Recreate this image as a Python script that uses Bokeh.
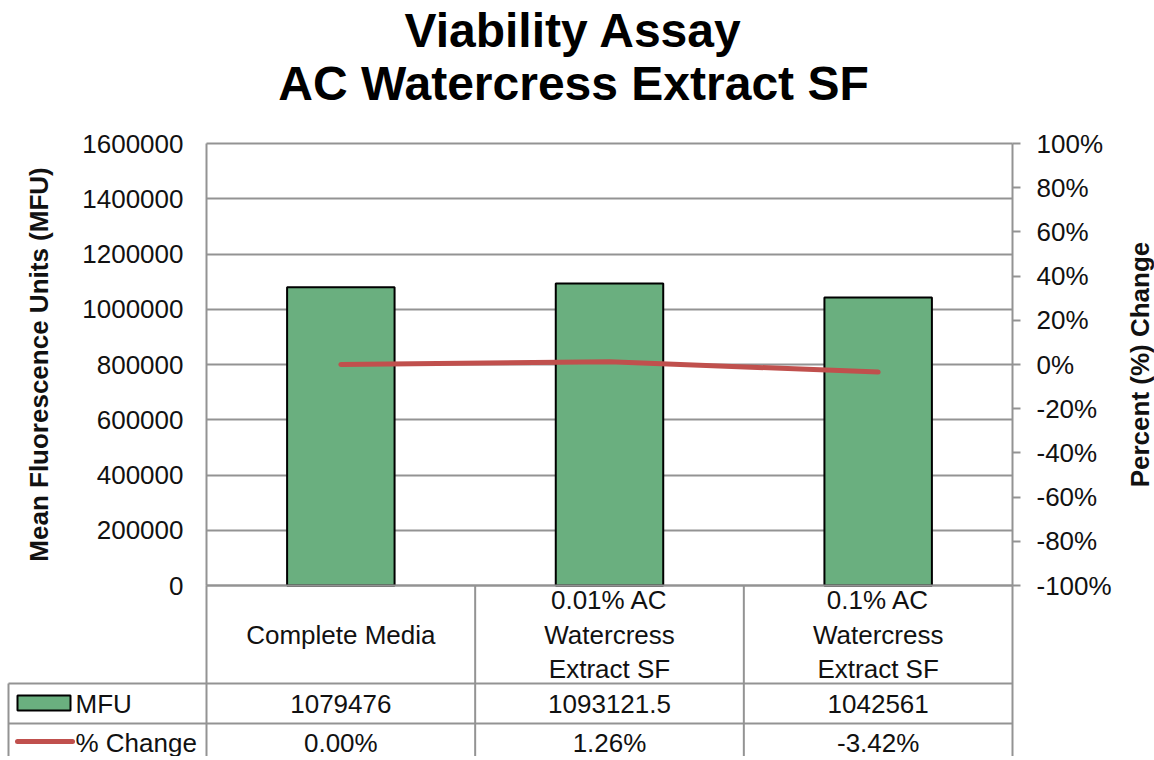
import math
from bokeh.plotting import figure
from bokeh.models import (Range1d, LinearAxis, FixedTicker, BasicTickFormatter,
                          NumeralTickFormatter, Grid)
from bokeh.embed import file_html
from bokeh.resources import INLINE
from bokeh.core.properties import value

# ---------------- data ----------------
title_lines = ["Viability Assay", "AC Watercress Extract SF"]
categories = ["Complete Media",
              "0.01% AC\nWatercress\nExtract SF",
              "0.1% AC\nWatercress\nExtract SF"]
mfu = [1079476, 1093121.5, 1042561]
pct_change = [0.00, 1.26, -3.42]          # percent
series_names = ["MFU", "% Change"]
left_ticks = [0, 200000, 400000, 600000, 800000, 1000000, 1200000, 1400000, 1600000]
right_ticks = [-100, -80, -60, -40, -20, 0, 20, 40, 60, 80, 100]   # percent
left_label = "Mean Fluorescence Units (MFU)"
right_label = "Percent (%) Change"

# ---------------- style / layout (pixels) ----------------
FONT = "Liberation Sans"
GREEN = "#6AAF7F"
RED = "#C0504D"
GREY = "#939393"
TXT = "#111111"
FS = "26px"

W, H = 1154, 756
PLOT_L, PLOT_R = 206, 1012          # plot area, x pixels in the canvas
PLOT_T, PLOT_B = 143, 585           # plot area, y pixels in the canvas
n = len(categories)
unit = (PLOT_R - PLOT_L) / n        # pixels per category


def ux(px):
    """canvas pixel x -> category-index units"""
    return (px - PLOT_L) / unit


y_max = left_ticks[-1]
k_mfu = y_max / (PLOT_B - PLOT_T)
r_lo, r_hi = right_ticks[0] / 100, right_ticks[-1] / 100
k_pct = (r_hi - r_lo) / (PLOT_B - PLOT_T)

p = figure(width=W, height=H, title=None,
           x_range=Range1d(ux(0), ux(W)), y_range=Range1d(H, 0),
           x_axis_location=None, y_axis_location=None,
           output_backend="svg", toolbar_location=None,
           min_border=0, min_border_left=0, min_border_right=0,
           min_border_top=0, min_border_bottom=0)
p.outline_line_color = None
p.xgrid.visible = False
p.ygrid.visible = False
p.background_fill_color = "white"
p.border_fill_color = "white"

p.extra_y_ranges = {
    "mfu": Range1d(0 - (H - PLOT_B) * k_mfu, y_max + PLOT_T * k_mfu),
    "pct": Range1d(r_lo - (H - PLOT_B) * k_pct, r_hi + PLOT_T * k_pct),
}

# gridlines of the plot area
grid = Grid(dimension=1, y_range_name="mfu", ticker=FixedTicker(ticks=left_ticks),
            cross_bounds=(0, n), grid_line_color=GREY, grid_line_width=2)
p.add_layout(grid, "center")

# left axis
ya = LinearAxis(y_range_name="mfu", fixed_location=0, bounds=(0, y_max),
                ticker=FixedTicker(ticks=left_ticks),
                formatter=BasicTickFormatter(use_scientific=False))
ya.major_tick_out = 0
ya.major_tick_in = 0
ya.minor_tick_out = 0
ya.minor_tick_in = 0
ya.axis_line_color = GREY
ya.axis_line_width = 2
ya.major_label_text_font = FONT
ya.major_label_text_font_size = FS
ya.major_label_text_color = TXT
ya.major_label_standoff = 23
ya.axis_label = left_label
ya.axis_label_text_font = FONT
ya.axis_label_text_font_size = FS
ya.axis_label_text_font_style = "bold"
ya.axis_label_text_color = TXT
ya.axis_label_standoff = 25
p.add_layout(ya, "left")

# right axis
ra = LinearAxis(y_range_name="pct", fixed_location=n, bounds=(r_lo, r_hi),
                ticker=FixedTicker(ticks=[t / 100 for t in right_ticks]),
                formatter=NumeralTickFormatter(format="0%"))
ra.major_tick_out = 8
ra.major_tick_in = 0
ra.minor_tick_out = 0
ra.minor_tick_in = 0
ra.major_tick_line_color = GREY
ra.major_tick_line_width = 2
ra.axis_line_color = GREY
ra.axis_line_width = 2
ra.major_label_text_font = FONT
ra.major_label_text_font_size = FS
ra.major_label_text_color = TXT
ra.major_label_standoff = 16
p.add_layout(ra, "right")

# right axis title (reads bottom-to-top, centred on the plot area)
p.text(x=[ux(1139)], y=[(PLOT_T + PLOT_B) / 2], text=[right_label], angle=math.pi / 2,
       text_font=value(FONT), text_font_size=FS, text_font_style="bold",
       text_color=TXT, text_align="center", text_baseline="middle")

# bars and line
centers = [i + 0.5 for i in range(n)]
p.vbar(x=centers, top=mfu, bottom=0, width=0.4, y_range_name="mfu",
       fill_color=GREEN, line_color="black", line_width=2)
p.line(x=centers, y=[v / 100 for v in pct_change], y_range_name="pct",
       line_color=RED, line_width=5, line_cap="round", line_join="round")

# title
p.text(x=[ux(573)] * 2, y=[30, 83], text=title_lines,
       text_font=value(FONT), text_font_size="48px", text_font_style="bold",
       text_color="black", text_align="center", text_baseline="middle")

# ---------------- data table ----------------
row_cat = (PLOT_B, PLOT_B + 98)
row_mfu = (row_cat[1], row_cat[1] + 40)
row_pct = (row_mfu[1], row_mfu[1] + 40)
legend_left = ux(8)

hx0 = [0, legend_left, legend_left]
hx1 = [n, n, n]
hy = [row_cat[0], row_mfu[0], row_pct[0]]
p.segment(x0=hx0, y0=hy, x1=hx1, y1=hy, line_color=GREY, line_width=2)
vx = list(range(n + 1)) + [legend_left]
vy0 = [row_cat[0]] * (n + 1) + [row_mfu[0]]
vy1 = [H] * (n + 2)
p.segment(x0=vx, y0=vy0, x1=vx, y1=vy1, line_color=GREY, line_width=2)

p.text(x=centers, y=[sum(row_cat) / 2] * n, text=categories,
       text_font=value(FONT), text_font_size=FS, text_color=TXT,
       text_align="center", text_baseline="middle", text_line_height=1.15)


def fmt_num(v):
    return str(int(v)) if float(v).is_integer() else repr(float(v))


p.text(x=centers, y=[sum(row_mfu) / 2] * n,
       text=[fmt_num(v) for v in mfu],
       text_font=value(FONT), text_font_size=FS, text_color=TXT,
       text_align="center", text_baseline="middle")
p.text(x=centers, y=[sum(row_pct) / 2 - 1] * n,
       text=[f"{v:.2f}%" for v in pct_change],
       text_font=value(FONT), text_font_size=FS, text_color=TXT,
       text_align="center", text_baseline="middle")

# legend keys in the table
p.quad(left=[ux(17)], right=[ux(70)], top=[row_mfu[0] + 12], bottom=[row_mfu[0] + 27],
       fill_color=GREEN, line_color="black", line_width=2)
p.line(x=[ux(17), ux(72)], y=[row_pct[0] + 18] * 2, line_color=RED,
       line_width=5, line_cap="round")
p.text(x=[ux(75)] * 2, y=[sum(row_mfu) / 2, sum(row_pct) / 2 - 1], text=series_names,
       text_font=value(FONT), text_font_size=FS, text_color=TXT,
       text_align="left", text_baseline="middle")

open("out.html", "w").write(file_html(p, INLINE))
